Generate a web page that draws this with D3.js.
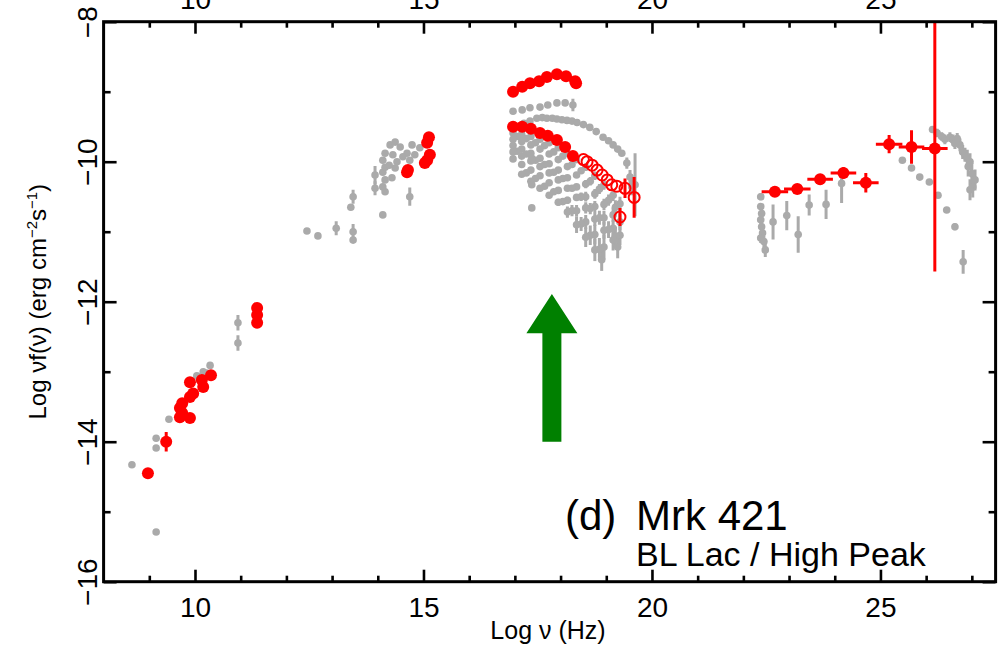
<!DOCTYPE html>
<html><head><meta charset="utf-8">
<script src="https://cdn.jsdelivr.net/npm/d3@7"></script>
<style>
body{margin:0;background:#fff;}
svg{display:block;}
text{font-family:"Liberation Sans",Arial,Helvetica,sans-serif;fill:#000;}
</style>
</head><body>
<svg id="c" width="1007" height="646"></svg>
<script>
// ---------------- DATA (log10 nu [Hz], log10 nuFnu, errDown, errUp) ----------------
const xTicksMajor = [10, 15, 20, 25];
const xTicksMinor = [9, 11, 12, 13, 14, 16, 17, 18, 19, 21, 22, 23, 24, 26, 27];
const yTicksMajor = [-8, -10, -12, -14, -16];
const yTicksMinor = [-9, -11, -13, -15];

// grey archival points
const greyRadio = [
  [8.62,-14.33],[9.15,-15.29],[9.15,-13.95],[9.15,-14.09],[9.43,-13.68],
  [10.04,-13.06],[10.18,-13.00],[10.33,-12.91],[10.10,-13.12],[10.25,-13.02],
  [10.94,-12.30,0.11],[10.94,-12.59,0.11]
];
const greyOptical = [
  [12.45,-10.99],[12.69,-11.06],
  [13.09,-10.95,0.10],[13.41,-10.65],[13.46,-10.50,0.10],[13.46,-11.00,0.11],[13.46,-11.12],
  [13.94,-10.19,0.13],[13.94,-10.38,0.10],
  [14.11,-9.98],[14.11,-10.15],[14.11,-10.36],[14.11,-10.76],
  [14.16,-9.88],[14.16,-10.08],[14.16,-10.26],[14.16,-10.43],
  [14.27,-9.76],[14.31,-10.23],[14.33,-9.90],[14.38,-9.72],[14.38,-10.09],
  [14.42,-10.00],[14.49,-9.79],[14.64,-9.88],[14.70,-9.98],[14.70,-10.50,0.13],
  [14.75,-9.76],[14.81,-9.90],[14.92,-9.80],[14.55,-9.93],[14.25,-10.05]
];
const greyXrayMid = [
  [16.96,-9.28],[17.16,-9.26],[17.33,-9.23],[17.55,-9.22],[17.72,-9.19],
  [17.92,-9.16],[18.10,-9.16],[18.27,-9.19,0.09]
];
const greyXrayTop = [
  [17.20,-9.45],[17.33,-9.42],[17.48,-9.38],[17.60,-9.37],[17.70,-9.38],[17.82,-9.38],[17.92,-9.39],
  [18.03,-9.40],[18.14,-9.41],[18.25,-9.42],[18.36,-9.44],[18.50,-9.47],[18.64,-9.51],[18.78,-9.57],
  [18.93,-9.65],[19.05,-9.70],[19.15,-9.76],[19.25,-9.82],[19.34,-9.88],[19.45,-10.02,0.08],
  [19.52,-10.22,0.10],[19.56,-10.36,0.12],[19.63,-10.33,0.45]
];
const greyXrayA = [
  [16.96,-9.59],[17.15,-9.61],[17.35,-9.64],[17.55,-9.68],[17.75,-9.73],[17.95,-9.80],
  [18.15,-9.88],[18.35,-9.97],[18.55,-10.08,0.05],[18.75,-10.20,0.06],[18.95,-10.33,0.07],
  [19.15,-10.48,0.08],[19.30,-10.60,0.10]
];
const greyXrayAB = [
  [17.05,-9.64],[17.25,-9.67],[17.45,-9.73],[17.65,-9.77],[17.85,-9.86],[18.05,-9.92],
  [18.25,-10.04],[18.45,-10.13],[18.65,-10.28,0.06],[18.85,-10.39,0.07],[19.05,-10.55,0.08],[19.20,-10.65,0.10]
];
const greyXrayB = [
  [16.96,-9.68],[17.15,-9.71],[17.35,-9.76],[17.55,-9.82],[17.75,-9.89],[17.95,-9.97],
  [18.15,-10.07],[18.35,-10.19],[18.55,-10.32,0.06],[18.75,-10.46,0.07],[18.95,-10.61,0.08],
  [19.15,-10.76,0.10],[19.30,-10.86,0.12]
];
const greyXrayC = [
  [16.96,-9.77],[17.15,-9.82],[17.35,-9.88],[17.55,-9.95],[17.75,-10.03],[17.95,-10.12],
  [18.15,-10.23],[18.35,-10.36],[18.55,-10.50,0.07],[18.75,-10.64,0.08],[18.95,-10.80,0.10],
  [19.15,-10.95,0.12],[19.30,-11.05,0.14]
];
const greyXrayCD = [
  [17.05,-9.85],[17.25,-9.89],[17.45,-9.98],[17.65,-10.04],[17.85,-10.15],[18.05,-10.24],
  [18.25,-10.38],[18.45,-10.50,0.06],[18.65,-10.67,0.08],[18.85,-10.80,0.10],[19.05,-10.97,0.12],[19.20,-11.07,0.14]
];
const greyXrayD = [
  [16.96,-9.86],[17.15,-9.92],[17.35,-9.99],[17.55,-10.07],[17.75,-10.16],[17.95,-10.26],
  [18.15,-10.38],[18.35,-10.51,0.05],[18.55,-10.66,0.08],[18.75,-10.82,0.10],[18.95,-10.98,0.12],
  [19.15,-11.12,0.15],[19.25,-11.22,0.16]
];
const greyXrayE = [
  [16.96,-9.96],[17.15,-10.04],[17.35,-10.12],[17.55,-10.20],[17.75,-10.30],[17.95,-10.41],
  [18.15,-10.55,0.05],[18.35,-10.70,0.08],[18.55,-10.86,0.10],[18.75,-11.04,0.14],[18.95,-11.22,0.18]
];
const greyXrayEF = [
  [17.25,-10.16],[17.45,-10.24],[17.65,-10.35],[17.85,-10.43],[18.05,-10.57,0.05],
  [18.25,-10.70,0.08],[18.45,-10.89,0.10],[18.65,-11.05,0.14],[18.85,-11.25,0.16]
];
const greyXrayF = [
  [17.15,-10.18],[17.35,-10.28],[17.55,-10.38],[17.75,-10.48],[17.95,-10.58,0.05],
  [18.15,-10.72,0.08],[18.35,-10.90,0.12],[18.55,-11.08,0.14],[18.75,-11.26,0.16],[18.90,-11.40,0.16]
];
const greyXrayExtra = [[17.37,-9.95],[17.37,-10.33],[17.37,-10.66]];
const greyGeV = [
  [22.38,-10.50,0.05],[22.38,-10.64,0.05],[22.40,-10.74,0.05],[22.38,-10.83,0.06],
  [22.40,-10.93,0.06],[22.42,-11.02,0.07],[22.38,-11.09,0.07],[22.45,-11.14,0.08],[22.48,-11.26,0.10],
  [22.65,-10.86,0.25],[22.95,-10.77,0.21],[23.20,-11.04,0.26],[23.44,-10.62,0.15],
  [23.81,-10.61,0.21],[24.15,-10.31,0.28,0.11]
];
const greyTeV = [
  [26.14,-9.54,0.05],[26.24,-9.59,0.06],[26.34,-9.64,0.06],[26.41,-9.68,0.07],[26.52,-9.65,0.07],
  [26.59,-9.69,0.08],[26.68,-9.67,0.08],[26.63,-9.74,0.08],[26.74,-9.76,0.09],[26.80,-9.86,0.10],
  [26.85,-9.90,0.10],[26.90,-9.95,0.12],[26.96,-10.00,0.12],[26.92,-10.07,0.14],[27.00,-10.17,0.15],
  [27.07,-10.26,0.15],[27.02,-10.36,0.15],[26.96,-10.40,0.15]
];
const greyTeVLow = [
  [25.48,-9.98],[25.68,-10.09],[25.86,-10.22],[26.07,-10.29],[26.26,-10.48],
  [26.45,-10.69,0.04],[26.63,-10.93,0.05],[26.81,-11.43,0.17]
];

// red simultaneous points
const redRadio = [
  [8.97,-14.45],[9.37,-14.00,0.14],
  [9.67,-13.52],[9.67,-13.65],[9.72,-13.45],[9.72,-13.59],[9.89,-13.15],[9.89,-13.36],
  [9.89,-13.66],[9.96,-13.31],[10.15,-13.12],[10.18,-13.22],[10.35,-13.05,0.06],
  [11.36,-12.09],[11.36,-12.19],[11.36,-12.30]
];
const redOptical = [
  [14.64,-10.15],[14.66,-10.12],[15.03,-10.02],[15.08,-9.98],[15.14,-9.90],[15.08,-9.73],[15.12,-9.65]
];
const redXrayHigh = [
  [16.96,-9.00],[17.16,-8.93],[17.33,-8.88],[17.53,-8.85],[17.70,-8.79],
  [17.92,-8.75],[18.12,-8.78],[18.32,-8.85],[18.34,-8.88]
];
const redXrayLow = [
  [16.96,-9.50],[17.16,-9.50],[17.35,-9.53],[17.55,-9.59],[17.72,-9.63],
  [17.92,-9.69],[18.10,-9.79],[18.27,-9.92]
];
const redXrayOpen = [
  [18.50,-9.97],[18.58,-10.00],[18.69,-10.05],[18.80,-10.12],[18.91,-10.19],[19.02,-10.26],
  [19.12,-10.33],[19.23,-10.35],[19.41,-10.38,0.14],[19.61,-10.51,0.29],[19.30,-10.79,0.13]
];
// [nu, flux, nu half-width, errDown, errUp]
const redGamma = [
  [22.69,-10.43,0.29,0,0],[23.18,-10.39,0.29,0,0],[23.68,-10.25,0.28,0,0],
  [24.19,-10.16,0.28,0.08,0.08],[24.68,-10.30,0.28,0.14,0.14],[25.19,-9.75,0.29,0.13,0.13],
  [25.68,-9.79,0.28,0.24,0.24],[26.19,-9.81,0.28,1.76,2.5]
];
// arrow: nu, base flux, head-base flux, tip flux
const arrowNu = 17.81, arrowBase = -14.0, arrowHead = -12.45, arrowTip = -11.89;

// ---------------- DRAW ----------------
const X0 = 103.6, X1 = 995.6, Y0 = 21.7, Y1 = 581.7;
const x = d3.scaleLinear().domain([8, 27.52]).range([X0, X1]);
const y = d3.scaleLinear().domain([-16, -8]).range([Y1, Y0]);
const svg = d3.select("#c");
const GREY = "#aaaaaa", RED = "#ff0000", GREEN = "#008000";

svg.append("defs").append("clipPath").attr("id", "clip")
  .append("rect").attr("x", X0).attr("y", Y0).attr("width", X1 - X0).attr("height", Y1 - Y0);
const plot = svg.append("g").attr("clip-path", "url(#clip)");

function errBars(g, data, color, w) {
  g.append("g").selectAll("line").data(data.filter(d => d[2])).join("line")
    .attr("x1", d => x(d[0])).attr("x2", d => x(d[0]))
    .attr("y1", d => y(d[1] - d[2])).attr("y2", d => y(d[1] + (d[3] !== undefined ? d[3] : d[2])))
    .attr("stroke", color).attr("stroke-width", w);
}
function dots(g, data, color, r) {
  g.append("g").selectAll("circle").data(data).join("circle")
    .attr("cx", d => x(d[0])).attr("cy", d => y(d[1])).attr("r", r).attr("fill", color);
}

const greySets = [greyRadio, greyOptical, greyXrayMid, greyXrayTop, greyXrayA, greyXrayAB, greyXrayB,
  greyXrayC, greyXrayCD, greyXrayD, greyXrayE, greyXrayEF, greyXrayF, greyXrayExtra, greyGeV, greyTeV, greyTeVLow];
greySets.forEach(s => errBars(plot, s, GREY, 3));
greySets.forEach(s => dots(plot, s, GREY, 3.8));

// red
[redRadio, redXrayOpen].forEach(s => errBars(plot, s, RED, 3));
dots(plot, redRadio, RED, 6);
dots(plot, redOptical, RED, 6);
dots(plot, redXrayHigh, RED, 6);
dots(plot, redXrayLow, RED, 6);
plot.append("g").selectAll("circle").data(redXrayOpen).join("circle")
  .attr("cx", d => x(d[0])).attr("cy", d => y(d[1])).attr("r", 5.5)
  .attr("fill", "none").attr("stroke", RED).attr("stroke-width", 2);

const gg = plot.append("g");
gg.selectAll("line.h").data(redGamma).join("line").attr("class", "h")
  .attr("x1", d => x(d[0] - d[2])).attr("x2", d => x(d[0] + d[2]))
  .attr("y1", d => y(d[1])).attr("y2", d => y(d[1]))
  .attr("stroke", RED).attr("stroke-width", 3);
gg.selectAll("line.v").data(redGamma.filter(d => d[3])).join("line").attr("class", "v")
  .attr("x1", d => x(d[0])).attr("x2", d => x(d[0]))
  .attr("y1", d => y(d[1] - d[3])).attr("y2", d => y(d[1] + d[4]))
  .attr("stroke", RED).attr("stroke-width", 3);
dots(gg, redGamma, RED, 6);

// green arrow
const ax = x(arrowNu), shaft = 9.5, head = 25.5;
plot.append("path")
  .attr("d", `M${ax - shaft},${y(arrowBase)}L${ax + shaft},${y(arrowBase)}L${ax + shaft},${y(arrowHead)}` +
    `L${ax + head},${y(arrowHead)}L${ax},${y(arrowTip)}L${ax - head},${y(arrowHead)}L${ax - shaft},${y(arrowHead)}Z`)
  .attr("fill", GREEN);

// axes
function styleAxis(g) {
  g.select(".domain").remove();
  g.selectAll("line").attr("stroke", "#000").attr("stroke-width", 2.6);
  g.selectAll("text").style("font-size", "28px").attr("fill", "#000");
}
svg.append("g").attr("transform", `translate(0,${Y1})`)
  .call(d3.axisBottom(x).tickValues(xTicksMinor).tickSize(-6).tickFormat("")).call(styleAxis);
svg.append("g").attr("transform", `translate(0,${Y1})`)
  .call(d3.axisBottom(x).tickValues(xTicksMajor).tickSize(-12).tickPadding(15).tickFormat(d3.format("d"))).call(styleAxis);
svg.append("g").attr("transform", `translate(0,${Y0})`)
  .call(d3.axisTop(x).tickValues(xTicksMinor).tickSize(-6).tickFormat("")).call(styleAxis);
svg.append("g").attr("transform", `translate(0,${Y0})`)
  .call(d3.axisTop(x).tickValues(xTicksMajor).tickSize(-12).tickPadding(13).tickFormat(d3.format("d"))).call(styleAxis);
svg.append("g").attr("transform", `translate(${X0},0)`)
  .call(d3.axisLeft(y).tickValues(yTicksMinor).tickSize(-7).tickFormat("")).call(styleAxis);
const yl = svg.append("g").attr("transform", `translate(${X0},0)`)
  .call(d3.axisLeft(y).tickValues(yTicksMajor).tickSize(-13).tickFormat(d => "\u2212" + Math.abs(d))).call(styleAxis);
yl.selectAll("text").attr("text-anchor", "middle").attr("x", 0).attr("y", -7).attr("dy", 0)
  .attr("transform", "rotate(-90)");
svg.append("g").attr("transform", `translate(${X1},0)`)
  .call(d3.axisRight(y).tickValues(yTicksMinor).tickSize(-7).tickFormat("")).call(styleAxis);
svg.append("g").attr("transform", `translate(${X1},0)`)
  .call(d3.axisRight(y).tickValues(yTicksMajor).tickSize(-13).tickFormat("")).call(styleAxis);

svg.append("rect").attr("x", X0).attr("y", Y0).attr("width", X1 - X0).attr("height", Y1 - Y0)
  .attr("fill", "none").attr("stroke", "#000").attr("stroke-width", 3);

// titles
svg.append("text").attr("x", 548).attr("y", 639).attr("text-anchor", "middle")
  .style("font-size", "25px").text("Log \u03bd (Hz)");
const yt = svg.append("text").attr("transform", `translate(46,${(Y0 + Y1) / 2}) rotate(-90)`)
  .attr("text-anchor", "middle").style("font-size", "24px");
yt.append("tspan").text("Log \u03bdf(\u03bd) (erg cm");
yt.append("tspan").attr("dy", -9).style("font-size", "15px").text("\u22122");
yt.append("tspan").attr("dy", 9).text("s");
yt.append("tspan").attr("dy", -9).style("font-size", "15px").text("\u22121");
yt.append("tspan").attr("dy", 9).text(")");

svg.append("text").attr("x", 565).attr("y", 530).style("font-size", "42px").text("(d)");
svg.append("text").attr("x", 636).attr("y", 530).style("font-size", "42px").text("Mrk 421");
svg.append("text").attr("x", 636).attr("y", 566).style("font-size", "34px").text("BL Lac / High Peak");
</script>
</body></html>
